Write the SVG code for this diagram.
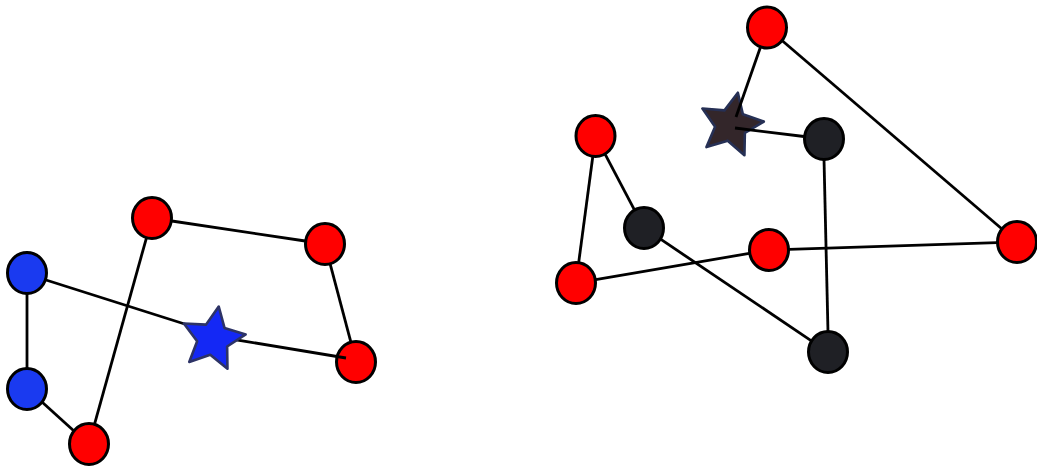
<svg xmlns="http://www.w3.org/2000/svg" width="1037" height="466" viewBox="0 0 1037 466">
  <style>
    .node { stroke: #000; stroke-width: 3; }
    .red { fill: #ff0000; }
    .blue { fill: #1a3af0; }
    .dark { fill: #1f2025; }
    .edge { stroke: #000; stroke-width: 2.8; fill: none; stroke-linecap: butt; }
    .star { stroke-width: 2.6; stroke-linejoin: round; }
  </style>
  <defs>
    <!-- five-pointed star, outer radius 33, inner radius 16 -->
    <path id="starShape" d="M0,-33 L9.4,-12.94 L31.38,-10.2 L15.22,4.94 L19.4,26.7 L0,16 L-19.4,26.7 L-15.22,4.94 L-31.38,-10.2 L-9.4,-12.94 Z"/>
  </defs>
  <rect width="1037" height="466" fill="#fff"/>

  <!-- right cluster star sits under its edges -->
  <g id="star-right">
    <use href="#starShape" class="star" fill="#33262a" stroke="#263055" transform="translate(731,125) rotate(12)"/>
  </g>

  <!-- left cluster nodes -->
  <g id="n-blue-top"><ellipse class="node blue" cx="27" cy="273" rx="19.5" ry="20.5"/></g>
  <g id="n-blue-bottom"><ellipse class="node blue" cx="27" cy="389" rx="19.5" ry="20.5"/></g>
  <g id="n-red-bottom"><ellipse class="node red" cx="89" cy="444" rx="19.5" ry="20.5"/></g>
  <g id="n-red-top"><ellipse class="node red" cx="152" cy="218" rx="19.5" ry="20.5"/></g>
  <g id="n-red-upper-right"><ellipse class="node red" cx="325" cy="244" rx="19.5" ry="20.5"/></g>
  <g id="n-red-lower-right"><ellipse class="node red" cx="356" cy="362" rx="19.5" ry="20.5"/></g>

  <!-- right cluster nodes -->
  <g id="m-red-top"><ellipse class="node red" cx="767" cy="27.5" rx="19.5" ry="20.5"/></g>
  <g id="m-dark-top"><ellipse class="node dark" cx="824" cy="139" rx="19.5" ry="20.5"/></g>
  <g id="m-red-left"><ellipse class="node red" cx="595.5" cy="136" rx="19.5" ry="20.5"/></g>
  <g id="m-dark-mid"><ellipse class="node dark" cx="644" cy="228" rx="19.5" ry="20.5"/></g>
  <g id="m-red-mid"><ellipse class="node red" cx="769" cy="250" rx="19.5" ry="20.5"/></g>
  <g id="m-red-bottom-left"><ellipse class="node red" cx="576" cy="283" rx="19.5" ry="20.5"/></g>
  <g id="m-red-right"><ellipse class="node red" cx="1017" cy="242" rx="19.5" ry="20.5"/></g>
  <g id="m-dark-bottom"><ellipse class="node dark" cx="828" cy="352" rx="19.5" ry="20.5"/></g>

  <g id="connectors">
    <!-- left cluster -->
    <line class="edge" x1="27" y1="293" x2="27" y2="368"/>
    <line class="edge" x1="42" y1="402" x2="74" y2="431"/>
    <line class="edge" x1="94.4" y1="424.7" x2="146.6" y2="237.3"/>
    <line class="edge" x1="171.8" y1="221" x2="305.2" y2="241"/>
    <line class="edge" x1="330" y1="263.3" x2="351" y2="342.7"/>
    <line class="edge" x1="346" y1="358" x2="213" y2="336"/>
    <line class="edge" x1="46" y1="280" x2="213" y2="333"/>
    <!-- right cluster -->
    <line class="edge" x1="760.5" y1="47" x2="736" y2="117"/>
    <line class="edge" x1="782" y1="40.5" x2="1002" y2="229"/>
    <line class="edge" x1="735" y1="128" x2="804" y2="136.5"/>
    <line class="edge" x1="824" y1="159" x2="828" y2="332"/>
    <line class="edge" x1="811.4" y1="340.8" x2="660.6" y2="239.2"/>
    <line class="edge" x1="634.7" y1="210.3" x2="604.8" y2="153.7"/>
    <line class="edge" x1="592.9" y1="155.8" x2="578.6" y2="263.2"/>
    <line class="edge" x1="595.7" y1="279.6" x2="749.3" y2="253.4"/>
    <line class="edge" x1="789" y1="249.4" x2="997" y2="242.6"/>
  </g>

  <!-- left cluster star sits over its edges -->
  <g id="star-left">
    <use href="#starShape" class="star" fill="#1428f5" stroke="#2d3366" transform="translate(213,339) rotate(10)"/>
  </g>
</svg>
